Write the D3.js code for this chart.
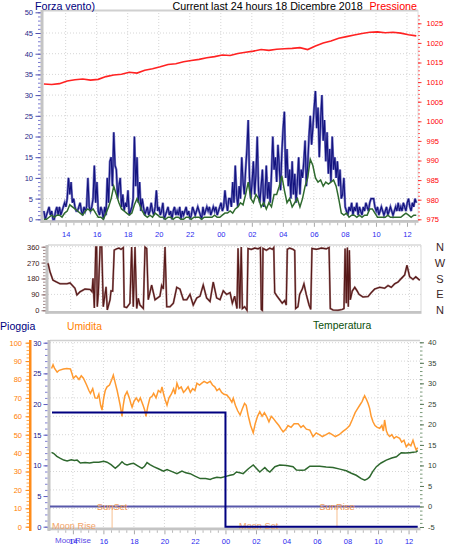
<!DOCTYPE html>
<html><head><meta charset="utf-8">
<script src="https://cdn.jsdelivr.net/npm/d3@7"></script>
<style>
body{margin:0;background:#fff}
svg{display:block}
text{font-family:"Liberation Sans",Arial,sans-serif}
</style>
</head><body>
<svg id="c" width="466" height="555"></svg>
<script>
// ---------------- DATA ----------------
// time in hours relative to midnight of 18 Dec (negative = 17 Dec)
const hourTicks  = [-10,-8,-6,-4,-2,0,2,4,6,8,10,12];
const hourLabels = ["14","16","18","20","22","00","02","04","06","08","10","12"];

// wind gust (km/h), 5-minute samples starting 12:36
const gustStart = -11.4, gustStep = 5/60;
const windGust = [
 2,0,1,2,3,1,2,0,0,2,3,1,
 3,1,2,3,4,3,5,10,6,9,4,5,
 3,2,2,3,4,2,1,3,2,3,10,3,
 2,3,5,13,4,9,2,1,3,2,0,3,
 1,10,4,14,15,8,21,13,12,5,8,10,
 3,6,2,4,3,7,1,2,3,5,20,8,
 15,4,9,2,5,3,1,2,3,1,2,4,
 2,1,3,7,2,3,1,2,4,0,1,2,
 3,1,2,0,2,3,1,2,1,3,0,2,
 1,2,3,1,2,0,1,3,2,1,2,3,
 2,1,0,3,1,2,3,2,3,1,2,3,
 2,3,1,2,3,4,2,3,7,4,2,5,
 5,3,9,4,13,6,3,8,5,15,9,6,
 12,17,24,10,5,9,14,6,11,20,7,4,
 8,12,3,6,13,5,9,4,11,20,12,15,
 9,18,13,7,16,22,26,10,17,8,12,5,
 14,6,11,4,9,15,6,12,10,14,19,8,
 13,20,25,18,22,27,31,22,27,15,24,30,
 19,24,14,21,11,17,9,20,12,15,10,14,
 8,12,5,6,10,3,2,1,3,2,4,1,
 3,2,4,1,3,2,1,3,2,4,3,2,
 4,5,5,5,3,2,3,1,2,3,2,1,
 2,3,1,2,3,2,1,2,3,2,4,2,
 3,2,4,3,2,4,5,3,2,4,3,5,
 4
];
// average wind (km/h), 10-minute samples starting 12:36
const avgStart = -11.4, avgStep = 10/60;
const windAvg = [
 0,0,0.5,1,0.5,1,
 1,0.5,1.5,2,3.5,3,
 2.5,2,1.5,1,2,2.5,
 2,2.5,1.5,0.5,0.5,0,
 1.5,3,5,8,6,4,
 2.5,2,1.5,1,1.5,3.5,
 5,3.5,2,1,0.5,1,
 0.5,1.5,1,0.5,0.5,0,
 0.5,0.5,0,0.5,0.5,0,
 0,0.5,0.5,0,0.5,0.5,
 0.5,0,0.5,0.5,0.5,0.5,
 1,0.5,0.5,1,1.5,1.5,
 2,1.5,2.5,3,4,3.5,
 6,9,5,4,6,5,
 3,4,2.5,4,3,6,
 6,8,10.5,7,4,5,
 3,4,5,3,5,8,
 10,14.5,13,10,9,9.5,
 8,9,8.5,9,9.5,8,
 5,1.5,1,1.5,0.5,1,
 1,0.5,1,0.5,1,1,
 2.5,2.5,1.5,0.5,0.5,0.5,
 0.5,1,0.5,0.5,0.5,0.5,
 0.5,1,1.5,1,0.5,1,
 1
];
// pressure (hPa), 30-minute samples starting 12:36
const presStart = -11.4, presStep = 0.5;
const pressure = [
 1009.5,1009.4,1009.6,1010.3,1010.6,1010.8,1010.5,1010.7,1011.4,1011.8,
 1012.0,1012.5,1012.3,1013.0,1013.4,1013.9,1014.5,1014.7,1015.2,1015.5,
 1015.8,1016.2,1016.5,1016.9,1016.8,1017.3,1017.6,1017.9,1018.3,1018.1,
 1018.4,1018.5,1018.6,1018.8,1018.3,1019.2,1020.0,1020.5,1021.2,1021.6,
 1022.0,1022.4,1022.7,1022.8,1022.6,1022.7,1022.5,1022.1,1021.8
];
// wind direction (degrees) [time, deg]
const windDir = [
 [-11.47,266],[-11.34,218],[-11.15,171],[-11.02,165],[-10.69,150],[-10.5,150],[-10.24,150],[-10.04,155],
 [-9.72,125],[-9.59,87],[-9.39,105],[-9.07,120],[-8.74,118],[-8.61,105],[-8.55,181],[-8.46,13],
 [-8.37,358],[-8.31,358],[-8.27,20],[-8.2,96],[-8.09,358],[-7.98,358],[-7.88,20],[-7.7,133],
 [-7.62,2],[-7.44,60],[-7.38,110],[-7.27,109],[-7.17,341],[-7.01,348],[-6.86,352],[-6.73,345],
 [-6.58,355],[-6.52,20],[-6.36,15],[-6.15,40],[-6.04,358],[-5.93,20],[-5.82,358],[-5.71,10],
 [-5.61,68],[-5.5,30],[-5.28,10],[-5.17,358],[-5.06,350],[-4.96,60],[-4.74,143],[-4.52,60],
 [-4.2,80],[-4.09,140],[-3.98,120],[-3.87,358],[-3.76,20],[-3.55,20],[-3.33,40],[-3.11,130],
 [-2.9,120],[-2.68,60],[-2.46,60],[-2.25,90],[-2.04,30],[-1.81,70],[-1.6,80],[-1.39,143],
 [-1.17,70],[-0.95,50],[-0.74,160],[-0.52,70],[-0.3,60],[-0.09,110],[0.13,90],[0.35,100],
 [0.5,40],[0.65,80],[0.8,10],[0.87,351],[0.98,10],[1.08,358],[1.15,10],[1.3,20],
 [1.45,0],[1.52,350],[1.73,345],[1.95,352],[2.17,348],[2.32,355],[2.38,5],[2.45,0],
 [2.49,350],[2.71,340],[2.93,352],[3.1,345],[3.19,355],[3.25,100],[3.4,80],[3.57,60],
 [3.74,40],[3.9,55],[4.0,30],[4.07,345],[4.22,352],[4.44,345],[4.55,338],[4.61,10],
 [4.76,20],[4.87,90],[5.04,120],[5.15,150],[5.3,90],[5.48,30],[5.59,5],[5.67,350],
 [5.95,345],[6.28,352],[6.6,348],[6.78,355],[6.86,10],[7.04,2],[7.36,0],[7.64,5],
 [7.75,10],[7.82,350],[7.9,40],[7.97,355],[8.03,20],[8.1,340],[8.16,60],[8.29,110],
 [8.45,130],[8.6,110],[8.73,90],[8.98,75],[9.31,78],[9.52,100],[9.74,120],[10.07,130],
 [10.39,125],[10.61,140],[10.82,130],[11.04,150],[11.26,160],[11.47,180],[11.69,200],[11.84,255],
 [12.01,190],[12.23,175],[12.41,190],[12.67,170]
];
// humidity (%) [time, value]
const humidity = [
 [-11.4,86],[-11.3,88],[-11.2,86],[-11.03,84],[-10.9,85],[-10.62,85.7],[-10.4,86],[-10.16,85.7],
 [-10.05,83],[-9.97,80.6],[-9.8,82],[-9.6,80],[-9.45,82],[-9.31,80.7],[-9.1,77],[-8.95,74],
 [-8.85,72.5],[-8.7,75],[-8.55,70],[-8.41,69.8],[-8.3,72],[-8.18,66],[-8.09,63.4],[-7.98,70],
 [-7.88,74],[-7.76,76],[-7.6,77],[-7.45,80],[-7.35,82.4],[-7.25,79],[-7.1,74],[-7.0,70],
 [-6.9,66],[-6.78,60],[-6.7,66],[-6.6,71],[-6.45,73.4],[-6.3,70],[-6.2,67],[-6.12,65],
 [-6.0,68],[-5.85,70],[-5.7,68],[-5.58,70],[-5.4,66],[-5.28,63],[-5.21,60],[-5.1,65],
 [-4.95,70],[-4.8,71],[-4.71,72.5],[-4.55,70],[-4.4,74],[-4.25,73],[-4.16,76],[-4.05,72],
 [-3.95,69],[-3.83,66],[-3.7,70],[-3.55,72],[-3.4,75],[-3.3,72],[-3.18,78],[-3.05,75],
 [-2.9,76],[-2.75,73],[-2.63,74],[-2.45,76],[-2.3,73],[-2.15,75],[-2.0,74],[-1.87,78],
 [-1.7,77],[-1.55,78],[-1.4,79],[-1.2,78],[-1.0,79],[-0.85,77],[-0.7,76],[-0.56,74],
 [-0.4,75],[-0.25,73],[-0.1,72],[0.09,71.6],[0.25,70],[0.42,67.6],[0.51,69.8],[0.65,66],
 [0.8,63],[0.96,60.7],[1.1,64],[1.25,67],[1.36,66],[1.5,60],[1.65,55],[1.82,51],
 [1.95,56],[2.1,60],[2.25,62.5],[2.4,60],[2.55,62],[2.69,60],[2.85,57],[3.0,60],
 [3.12,59],[3.3,57],[3.5,55],[3.65,53],[3.78,51.6],[3.95,53],[4.1,55],[4.3,54],
 [4.5,56],[4.76,56],[4.95,54],[5.1,55],[5.3,53],[5.53,52.5],[5.74,49],[5.95,51],
 [6.15,50],[6.35,49],[6.59,50],[6.8,51],[7.0,50],[7.2,49],[7.45,50],[7.7,51.8],
 [7.9,53],[8.14,55],[8.3,58],[8.5,62],[8.65,64],[8.8,66],[8.95,68],[9.12,71.2],
 [9.25,69],[9.35,67],[9.45,64.3],[9.55,60],[9.67,57],[9.8,55],[9.95,54],[10.11,53.5],
 [10.25,55],[10.35,52],[10.43,58],[10.55,52],[10.65,50],[10.76,49],[10.9,50],[11.05,48],
 [11.2,49],[11.42,48],[11.55,46],[11.7,47],[11.85,43.5],[12.0,45],[12.15,44],[12.29,47],
 [12.4,44],[12.5,41.7],[12.6,43]
];
// temperature (°C) [time, value]
const temperature = [
 [-11.4,13.2],[-11.25,12.9],[-11.05,12.2],[-10.82,11.7],[-10.6,11.3],[-10.38,11.1],[-10.1,11.4],[-9.9,11.2],
 [-9.72,11.3],[-9.51,10.6],[-9.2,10.7],[-8.9,10.6],[-8.64,10.8],[-8.3,10.8],[-7.98,11],[-7.76,10.8],
 [-7.5,10.2],[-7.22,9.3],[-7.0,10],[-6.78,10.9],[-6.6,10.3],[-6.45,10.1],[-6.2,10.4],[-6.02,10.5],
 [-5.75,9.9],[-5.47,9.3],[-5.3,9.8],[-5.14,10.7],[-4.95,10.2],[-4.71,9.7],[-4.4,9.2],[-4.06,8.6],
 [-3.83,9],[-3.5,8.5],[-3.18,8],[-2.85,8.6],[-2.6,8.2],[-2.31,8],[-2.0,7.4],[-1.65,6.8],
 [-1.3,6.8],[-1.0,6.6],[-0.8,6.9],[-0.56,7.1],[-0.3,7.0],[0.09,7.4],[0.3,7.6],[0.53,7.8],
 [0.72,8.4],[0.95,8.2],[1.16,8],[1.5,9.2],[1.82,10.1],[2.05,9.2],[2.25,8.4],[2.58,9.5],
 [2.75,8.8],[2.91,8.4],[3.24,9.7],[3.56,10.1],[4.0,10.0],[4.43,9.7],[4.65,8.9],[5.0,8.8],
 [5.2,8.9],[5.53,9.8],[5.9,9.8],[6.18,9.8],[6.6,9.6],[7.05,9.5],[7.5,9.1],[7.92,8.7],
 [8.25,8.1],[8.57,7.6],[8.9,6.8],[9.13,6.4],[9.3,6.7],[9.45,7.2],[9.65,8.5],[9.89,9.7],
 [10.2,10.6],[10.54,11.3],[10.9,11.8],[11.2,12.1],[11.52,13.1],[11.8,13.0],[12.07,13.1],[12.3,13.2],
 [12.5,13.3],[12.6,13.6]
];
// rain (mm) [time, value]
const rain = [[-11.37,18.6],[0,18.6],[0,0],[12.6,0]];
// sun / moon events
const sunSet = -7.43, sunRise = 7.31;

// ---------------- HELPERS ----------------
const svg = d3.select("#c");
svg.append("rect").attr("width",466).attr("height",555).attr("fill","#fff");
const FS = 7.5;

function styleAxis(g, tickColor, labelColor){
  g.select(".domain").remove();
  g.attr("font-family",'"Liberation Sans",Arial,sans-serif').attr("font-size",FS);
  g.selectAll("line").attr("stroke",tickColor);
  g.selectAll("text").attr("fill",labelColor);
  return g;
}
function addAxis(make, x, y, major, minor, majorSize, minorSize, pad, tickColor, minorColor, labelColor, fmt){
  const gm = svg.append("g").attr("transform",`translate(${x},${y})`)
    .call(make().tickValues(minor).tickSize(minorSize).tickFormat(""));
  styleAxis(gm, minorColor, labelColor);
  const g = svg.append("g").attr("transform",`translate(${x},${y})`)
    .call(make().tickValues(major).tickSize(majorSize).tickPadding(pad).tickFormat(fmt||(d=>d)));
  styleAxis(g, tickColor, labelColor);
  return g;
}
function vgrid(xs, y0, y1){
  svg.append("g").selectAll("line").data(hourTicks).join("line")
    .attr("x1",d=>xs(d)).attr("x2",d=>xs(d)).attr("y1",y0).attr("y2",y1)
    .attr("stroke","#d6d6d6").attr("stroke-dasharray","1,2");
}
function hgrid(ys, vals, x0, x1){
  svg.append("g").selectAll("line").data(vals).join("line")
    .attr("x1",x0).attr("x2",x1).attr("y1",d=>ys(d)).attr("y2",d=>ys(d))
    .attr("stroke","#d6d6d6").attr("stroke-dasharray","1,2");
}
function xAxis(xs, y, pad){
  const minorT = d3.range(-11,12.75,0.5).filter(t=>!hourTicks.includes(t));
  const fmt = d=>hourLabels[hourTicks.indexOf(d)];
  return addAxis(()=>d3.axisBottom(xs), 0, y, hourTicks, minorT, 4, 2.5, pad, "#a8a8a8", "#b8b8b8", "#2a2aee", fmt);
}
const text = (x,y,s,fill,size,anchor)=>svg.append("text").attr("x",x).attr("y",y).text(s)
  .attr("fill",fill).attr("font-size",size).attr("text-anchor",anchor||"start");

// ---------------- TOP PANEL ----------------
const xT = d3.scaleLinear([-11.46,12.71],[43,418]);
const yW = d3.scaleLinear([0,50],[219.3,12.3]);
const yP = d3.scaleLinear([975,1025],[219.3,23.3]);

hgrid(yW, d3.range(5,50,5), 43, 418);
vgrid(xT, 10, 220);
svg.append("line").attr("x1",43).attr("x2",418).attr("y1",10.5).attr("y2",10.5).attr("stroke","#d0d0d0").attr("stroke-width",2);
svg.append("line").attr("x1",418).attr("x2",418).attr("y1",10).attr("y2",220).attr("stroke","#e0e0e0");
svg.append("rect").attr("x",40.5).attr("y",10).attr("width",3).attr("height",213).attr("fill","#c4c4c4");
svg.append("rect").attr("x",40.5).attr("y",220).attr("width",378).attr("height",2.8).attr("fill","#c4c4c4");

addAxis(()=>d3.axisLeft(yW), 40.5, 0, d3.range(0,51,5), d3.range(0,51,1), 5, 2.5, 2.5, "#5050b0", "#7a7ad0", "#2a2a8a");
addAxis(()=>d3.axisRight(yP), 418, 0, d3.range(975,1026,5), d3.range(975,1028,1), 3.5, 2, 5, "#ff3030", "#ff6060", "#ff0000");
xAxis(xT, 222.8, 4.6);

const linePres = d3.line().x((d,i)=>xT(presStart+i*presStep)).y(d=>yP(d));
svg.append("path").datum(pressure).attr("d",linePres).attr("fill","none").attr("stroke","#ff2222").attr("stroke-width",1.6);

const lineGust = d3.line().x((d,i)=>xT(gustStart+i*gustStep)).y(d=>yW(d));
svg.append("path").datum(windGust).attr("d",lineGust).attr("fill","none").attr("stroke","#7a7ac4").attr("stroke-width",2.4);
svg.append("path").datum(windGust).attr("d",lineGust).attr("fill","none").attr("stroke","#13137f").attr("stroke-width",1.1);

const lineAvg = d3.line().x((d,i)=>xT(avgStart+i*avgStep)).y(d=>yW(d));
svg.append("path").datum(windAvg).attr("d",lineAvg).attr("fill","none").attr("stroke","#2f6a2f").attr("stroke-width",1.5);

text(35,10,"Forza vento)","#000080",10.7);
text(172.5,10,"Current last 24 hours 18 Dicembre 2018","#000",10.7);
text(417,10,"Pressione","#ff0000",10.7,"end");

// ---------------- MIDDLE PANEL ----------------
const xM = d3.scaleLinear([-11.47,12.75],[48,421]);
const yD = d3.scaleLinear([0,360],[310.3,246.7]);
hgrid(yD, [90,180,270,360], 48, 421);
vgrid(xM, 245, 311);
svg.append("line").attr("x1",48).attr("x2",421).attr("y1",245).attr("y2",245).attr("stroke","#d8d8d8").attr("stroke-width",1.5);
svg.append("line").attr("x1",421).attr("x2",421).attr("y1",245).attr("y2",311).attr("stroke","#d8d8d8");
svg.append("rect").attr("x",45.5).attr("y",245).attr("width",3).attr("height",69).attr("fill","#c4c4c4");
svg.append("rect").attr("x",45.5).attr("y",311).attr("width",376).attr("height",2.8).attr("fill","#c4c4c4");
addAxis(()=>d3.axisLeft(yD), 45.5, 0, [0,90,180,270,360], d3.range(0,361,18), 4, 2.5, 2, "#8a6a6a", "#a08888", "#402020");

const lineDir = d3.line().x(d=>xM(d[0])).y(d=>yD(d[1]));
svg.append("path").datum(windDir).attr("d",lineDir).attr("fill","none").attr("stroke","#a88080").attr("stroke-width",2);
svg.append("path").datum(windDir).attr("d",lineDir).attr("fill","none").attr("stroke","#561818").attr("stroke-width",1.1);

const compass = [[360,"N"],[270,"W"],[180,"S"],[90,"E"],[0,"N"]];
svg.append("g").selectAll("text").data(compass).join("text")
  .attr("x",440).attr("y",d=>yD(d[0])+4).attr("text-anchor","middle")
  .attr("font-size",11).attr("fill","#3a2424").text(d=>d[1]);

// ---------------- BOTTOM PANEL ----------------
const xB = d3.scaleLinear([-11.5,12.75],[50,420]);
const yH = d3.scaleLinear([0,100],[526.7,342.7]);
const yR = d3.scaleLinear([0,30],[526.7,342.7]);
const yTm = d3.scaleLinear([-5,40],[527,342.3]);

hgrid(yH, d3.range(10,101,10), 50, 420);
vgrid(xB, 340, 528);
svg.append("line").attr("x1",50).attr("x2",420).attr("y1",340.5).attr("y2",340.5).attr("stroke","#d0d0d0").attr("stroke-width",1.5);
svg.append("rect").attr("x",47.5).attr("y",340).attr("width",3).attr("height",191).attr("fill","#c4c4c4");
svg.append("rect").attr("x",47.5).attr("y",527.5).attr("width",373).attr("height",2.8).attr("fill","#c4c4c4");

// humidity axis (orange)
svg.append("rect").attr("x",29).attr("y",340).attr("width",2.5).attr("height",191).attr("fill","#ff8c1a");
addAxis(()=>d3.axisLeft(yH), 29, 0, d3.range(0,101,10), d3.range(0,101,2), 3.5, 2.5, 3.5, "#ff8c1a", "#ffa850", "#ff8000");
// rain axis
addAxis(()=>d3.axisLeft(yR), 47.5, 0, d3.range(0,31,5), d3.range(0,31,1), 4, 2.5, 2, "#6060c0", "#8080d0", "#20208a");
// temperature axis
addAxis(()=>d3.axisRight(yTm), 420, 0, d3.range(-5,41,5), d3.range(-5,41,1), 4, 2.5, 4, "#5a7a5a", "#7a9a7a", "#334433");

// freezing line
svg.append("line").attr("x1",50).attr("x2",420).attr("y1",yTm(0)).attr("y2",yTm(0)).attr("stroke","#5858aa").attr("stroke-width",2);

// sun events
[[sunSet,"SunSet"],[sunRise,"SunRise"]].forEach(([t,s])=>{
  svg.append("line").attr("x1",xB(t)).attr("x2",xB(t)).attr("y1",yTm(0)).attr("y2",528)
    .attr("stroke","#f6bf90").attr("stroke-width",1);
  text(xB(t),yTm(0)+3.5,s,"#f19a55",9.4,"middle");
});
text(52,528.5,"Moon Rise","#f2a468",9.2);
text(239,528.5,"Moon Set","#f2a468",9.2);

const lineH = d3.line().x(d=>xB(d[0])).y(d=>yH(d[1]));
svg.append("path").datum(humidity).attr("d",lineH).attr("fill","none").attr("stroke","#ff9a30").attr("stroke-width",1.5);
const lineT = d3.line().x(d=>xB(d[0])).y(d=>yTm(d[1]));
svg.append("path").datum(temperature).attr("d",lineT).attr("fill","none").attr("stroke","#2e682e").attr("stroke-width",1.5);
const lineR = d3.line().x(d=>xB(d[0])).y(d=>yR(d[1]));
svg.append("path").datum(rain).attr("d",lineR).attr("fill","none").attr("stroke","#000080").attr("stroke-width",2);

// MoonRise marker label sits in the time-label row (as in the reference, over "14")
text(55,543,"MoonRise","#5a4ae6",8);
xAxis(xB, 530.3, 4.2);

text(0,330,"Pioggia","#000080",10.6);
text(67,330,"Umidita","#ff8000",10.3);
text(313,329,"Temperatura","#0b4f0b",10.4);
</script>
</body></html>
